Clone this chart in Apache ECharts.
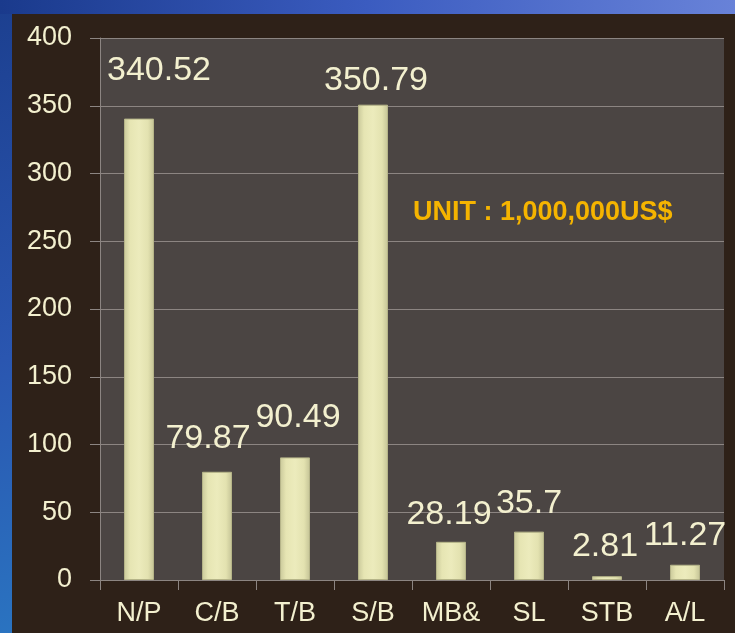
<!DOCTYPE html>
<html>
<head>
<meta charset="utf-8">
<script src="https://cdn.jsdelivr.net/npm/echarts@6/dist/echarts.min.js"></script>
<style>
  html, body { margin: 0; padding: 0; }
  body {
    width: 735px; height: 633px; overflow: hidden; position: relative;
    background: linear-gradient(160deg, #1c3f8f 0%, #2a56b0 40%, #2a8fd0 100%);
  }
  .top {
    position: absolute; left: 0; top: 0; width: 735px; height: 14px;
    background: linear-gradient(90deg, #1a3a8c 0%, #3b5cc0 50%, #6882d8 100%);
  }
  #chart { position: absolute; left: 12px; top: 14px; width: 723px; height: 619px; }
</style>
</head>
<body>
<div class="top"></div>
<div id="chart"></div>
<script>
  const data = [
    {name: 'N/P', value: 340.52, offset: [20, -26]},
    {name: 'C/B', value: 79.87, offset: [-9, -11]},
    {name: 'T/B', value: 90.49, offset: [3, -18]},
    {name: 'S/B', value: 350.79, offset: [3, -2]},
    {name: 'MB&', value: 28.19, offset: [-2, -5]},
    {name: 'SL', value: 35.7, offset: [0, -6]},
    {name: 'STB', value: 2.81, offset: [-2, -8]},
    {name: 'A/L', value: 11.27, offset: [0, -7]},
  ];
  const cream = '#f3f0cf';
  const myChart = echarts.init(document.getElementById('chart'));
  myChart.setOption({
    backgroundColor: '#2e2118',
    animation: false,
    textStyle: {fontFamily: 'Liberation Sans, Arial, sans-serif'},
    grid: {
      left: 88,
      right: 11,
      top: 24,
      bottom: 53,
      show: true,
      backgroundColor: '#4b4543',
      borderWidth: 0
    },
    xAxis: {
      type: 'category',
      data: data.map(i => i.name),
      axisLine: {lineStyle: {color: '#8c8582', width: 1}},
      axisTick: {show: true, length: 10, lineStyle: {color: '#8c8582'}},
      axisLabel: {color: cream, fontSize: 27, margin: 20}
    },
    yAxis: {
      type: 'value',
      min: 0,
      max: 400,
      interval: 50,
      axisLine: {show: true, lineStyle: {color: '#8c8582'}},
      axisTick: {show: true, length: 10, lineStyle: {color: '#8c8582'}},
      splitLine: {lineStyle: {color: '#8c8582', width: 1}},
      axisLabel: {color: cream, fontSize: 27, margin: 28}
    },
    graphic: [{
      type: 'text',
      left: 401,
      top: 185,
      style: {
        text: 'UNIT : 1,000,000US$',
        fill: '#f5b400',
        font: 'bold 27px Liberation Sans, Arial, sans-serif'
      }
    }],
    series: [{
      type: 'bar',
      barWidth: 30,
      data: data.map(i => ({
        value: i.value,
        label: {offset: i.offset}
      })),
      itemStyle: {
        borderColor: '#b5b488',
        borderWidth: 1,
        color: new echarts.graphic.LinearGradient(0, 0, 1, 0, [
          {offset: 0, color: '#c9c89a'},
          {offset: 0.2, color: '#e6e5b3'},
          {offset: 0.5, color: '#ecebbc'},
          {offset: 0.8, color: '#e3e2b0'},
          {offset: 1, color: '#c4c396'}
        ])
      },
      label: {
        show: true,
        position: 'top',
        color: cream,
        fontSize: 34,
        formatter: p => String(data[p.dataIndex].value)
      }
    }]
  });
</script>
</body>
</html>
